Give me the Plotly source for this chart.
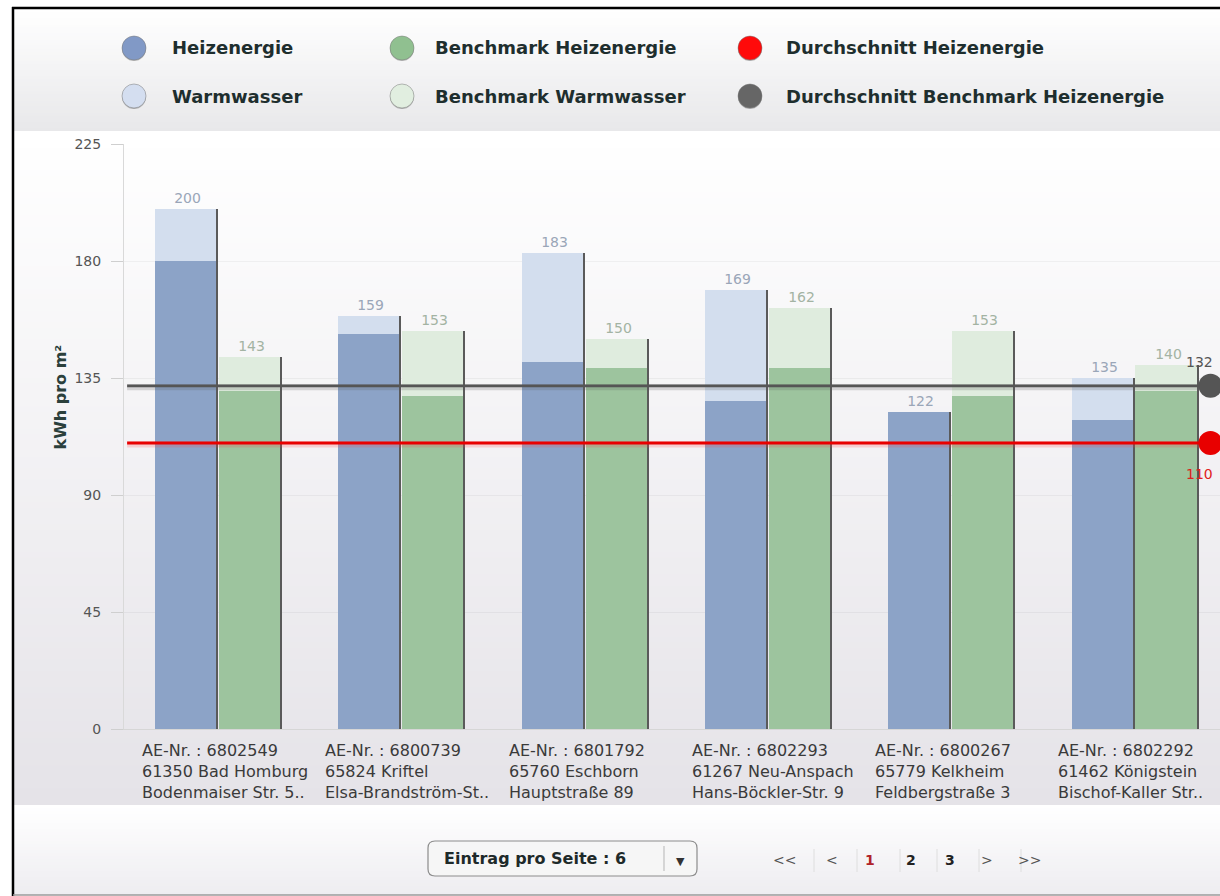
import plotly.graph_objects as go

# ---------------- data ----------------
ae_numbers = ["6802549", "6800739", "6801792", "6802293", "6800267", "6802292"]
cities = ["61350 Bad Homburg", "65824 Kriftel", "65760 Eschborn",
          "61267 Neu-Anspach", "65779 Kelkheim", "61462 Königstein"]
streets = ["Bodenmaiser Str. 5..", "Elsa-Brandström-St..", "Hauptstraße 89",
           "Hans-Böckler-Str. 9", "Feldbergstraße 3", "Bischof-Kaller Str.."]
heizenergie = [180, 152, 141, 126, 122, 119]
warmwasser = [20, 7, 42, 43, 0, 16]
bench_heiz = [130, 128, 139, 139, 128, 130]
bench_ww = [13, 25, 11, 23, 25, 10]
avg_heiz = 110
avg_bench_heiz = 132
y_ticks = [0, 45, 90, 135, 180, 225]
legend_names = ["Heizenergie", "Warmwasser", "Benchmark Heizenergie",
                "Benchmark Warmwasser", "Durchschnitt Heizenergie",
                "Durchschnitt Benchmark Heizenergie"]
pager_items = ["<<", "<", "1", "2", "3", ">", ">>"]

# ---------------- geometry / style ----------------
W, H = 1220, 896
L, R, T, B = 124, 1220, 144, 729
X_RANGE = [-0.507, 5.472]

def px2x(px):
    return (px - L) / (R - L)

def py2y(py):
    return (B - py) / (B - T)

C_HEIZ = "#8ca3c7"
C_WW = "#d3deee"
C_BHEIZ = "#9dc49e"
C_BWW = "#dfecde"
C_SHADOW = "#5a5a5a"
FONT = "DejaVu Sans"

n = len(ae_numbers)
idx = list(range(n))
tot_blue = [a + b for a, b in zip(heizenergie, warmwasser)]
tot_green = [a + b for a, b in zip(bench_heiz, bench_ww)]

BW = 0.333
OFF_B = -0.338
OFF_G = 0.011
SH = 0.011

fig = go.Figure()

# shadow bars (carry the total labels)
fig.add_trace(go.Bar(x=idx, y=tot_blue, offset=OFF_B + SH, width=BW,
                     marker=dict(color=C_SHADOW, line=dict(width=0)),
                     text=[str(v) for v in tot_blue], textposition="outside",
                     textfont=dict(family=FONT, size=14, color="#9aa6b8"),
                     cliponaxis=False, showlegend=False, hoverinfo="skip"))
fig.add_trace(go.Bar(x=idx, y=tot_green, offset=OFF_G + SH, width=BW,
                     marker=dict(color=C_SHADOW, line=dict(width=0)),
                     text=[str(v) for v in tot_green], textposition="outside",
                     textfont=dict(family=FONT, size=14, color="#a3b3a3"),
                     cliponaxis=False, showlegend=False, hoverinfo="skip"))

fig.add_trace(go.Bar(x=idx, y=heizenergie, offset=OFF_B, width=BW, name="Heizenergie",
                     marker=dict(color=C_HEIZ, line=dict(width=0)), showlegend=False))
fig.add_trace(go.Bar(x=idx, y=warmwasser, base=heizenergie, offset=OFF_B, width=BW,
                     name="Warmwasser", marker=dict(color=C_WW, line=dict(width=0)),
                     showlegend=False))
fig.add_trace(go.Bar(x=idx, y=bench_heiz, offset=OFF_G, width=BW, name="Benchmark Heizenergie",
                     marker=dict(color=C_BHEIZ, line=dict(width=0)), showlegend=False))
fig.add_trace(go.Bar(x=idx, y=bench_ww, base=bench_heiz, offset=OFF_G, width=BW,
                     name="Benchmark Warmwasser", marker=dict(color=C_BWW, line=dict(width=0)),
                     showlegend=False))

# average lines
x_line = [-0.49, n - 1 + 0.42]
for val, col, glow in [(avg_bench_heiz, "#555555", "rgba(90,90,90,0.22)"),
                       (avg_heiz, "#e80000", "rgba(255,60,60,0.2)")]:
    fig.add_trace(go.Scatter(x=x_line, y=[val - 0.6, val - 0.6], mode="lines",
                             line=dict(color=glow, width=6), showlegend=False,
                             hoverinfo="skip"))
    fig.add_trace(go.Scatter(x=x_line, y=[val, val], mode="lines",
                             line=dict(color=col, width=2.8),
                             showlegend=False, hoverinfo="skip"))
    fig.add_trace(go.Scatter(x=[x_line[1]], y=[val], mode="markers",
                             marker=dict(size=24, color=col, opacity=1, line=dict(width=0)),
                             cliponaxis=False, showlegend=False, hoverinfo="skip"))

fig.add_annotation(x=x_line[1], y=avg_bench_heiz, xref="x", yref="y", text=str(avg_bench_heiz),
                   showarrow=False, xshift=-11, yshift=24,
                   font=dict(family=FONT, size=14, color="#555555"))
fig.add_annotation(x=x_line[1], y=avg_heiz, xref="x", yref="y", text=str(avg_heiz),
                   showarrow=False, xshift=-11, yshift=-31,
                   font=dict(family=FONT, size=14, color="#e02020"))

# x labels (left aligned, 3 lines)
for i in idx:
    for txt, py in [("AE-Nr. : " + ae_numbers[i], 750), (cities[i], 771), (streets[i], 792)]:
        fig.add_annotation(x=i - 0.42, y=py2y(py), xref="x", yref="paper", text=txt,
                           showarrow=False, xanchor="left", yanchor="middle",
                           font=dict(family=FONT, size=16, color="#3a3a3a"))

# y title
fig.add_annotation(x=px2x(48), y=py2y(397), xref="paper", yref="paper",
                   text="<b>kWh pro m²</b>", textangle=-90, showarrow=False,
                   font=dict(family=FONT, size=16, color="#2b403c"))

# ---------------- backgrounds (gradient bands) ----------------
def hex2rgb(h):
    h = h.lstrip("#")
    return tuple(int(h[i:i + 2], 16) for i in (0, 2, 4))

def grad(y0, y1, c0, c1, nb):
    a, b = hex2rgb(c0), hex2rgb(c1)
    out = []
    step = (y1 - y0) / nb
    for j in range(nb):
        t = j / max(nb - 1, 1)
        c = tuple(round(a[k] + (b[k] - a[k]) * t) for k in range(3))
        ya = y0 + j * step
        yb = min(y1, ya + step + 1)
        out.append(dict(type="rect", xref="paper", yref="paper",
                        x0=px2x(13), x1=px2x(W + 5), y0=py2y(yb), y1=py2y(ya),
                        fillcolor="rgb(%d,%d,%d)" % c, line=dict(width=0),
                        layer="below"))
    return out

shapes = []
shapes += grad(9, 131, "#ffffff", "#e8e8ea", 40)
shapes += grad(131, 805, "#ffffff", "#e5e3e8", 120)
shapes += grad(805, 895, "#ffffff", "#eeedf1", 30)

# frame
shapes.append(dict(type="line", xref="paper", yref="paper", x0=px2x(12), x1=px2x(W + 5),
                   y0=py2y(8), y1=py2y(8), line=dict(color="#000000", width=2.5)))
shapes.append(dict(type="line", xref="paper", yref="paper", x0=px2x(13), x1=px2x(13),
                   y0=py2y(7), y1=py2y(H + 2), line=dict(color="#000000", width=2.5)))
shapes.append(dict(type="line", xref="paper", yref="paper", x0=px2x(13), x1=px2x(W + 5),
                   y0=py2y(895), y1=py2y(895), line=dict(color="#9a9a9a", width=1.5)))

# ---------------- legend ----------------
leg_circles_x = [134, 134, 402, 402, 750, 750]
leg_circles_y = [48, 96, 48, 96, 48, 96]
leg_text_x = [170, 170, 433, 433, 784, 784]
leg_colors = ["#8199c6", "#d4def0", "#90c090", "#e1eee0", "#ff0a0a", "#666666"]
for cx, cy, cc in zip(leg_circles_x, leg_circles_y, leg_colors):
    shapes.append(dict(type="circle", xref="paper", yref="paper",
                       x0=px2x(cx - 12), x1=px2x(cx + 12), y0=py2y(cy + 13), y1=py2y(cy - 11),
                       fillcolor="rgba(70,70,70,0.35)", line=dict(width=0)))
    shapes.append(dict(type="circle", xref="paper", yref="paper",
                       x0=px2x(cx - 12), x1=px2x(cx + 12), y0=py2y(cy + 12), y1=py2y(cy - 12),
                       fillcolor=cc, line=dict(width=1, color="rgba(120,120,120,0.5)")))
for name, tx, ty in zip(legend_names, leg_text_x, leg_circles_y):
    fig.add_annotation(x=px2x(tx), y=py2y(ty), xref="paper", yref="paper",
                       text="<b>" + name + "</b>", showarrow=False,
                       xanchor="left", yanchor="middle",
                       font=dict(family=FONT, size=18, color="#1e2e2e"))

# ---------------- dropdown & pager ----------------
bx0, bx1, by0, by1, rr = 428, 697, 841, 876, 7
path = ("M {a},{b} L {c},{b} Q {d},{b} {d},{e} L {d},{f} Q {d},{g} {c},{g} "
        "L {a},{g} Q {h},{g} {h},{f} L {h},{e} Q {h},{b} {a},{b} Z").format(
    a=px2x(bx0 + rr), b=py2y(by0), c=px2x(bx1 - rr), d=px2x(bx1), e=py2y(by0 + rr),
    f=py2y(by1 - rr), g=py2y(by1), h=px2x(bx0))
shapes.append(dict(type="path", xref="paper", yref="paper", path=path,
                   fillcolor="#f6f6f6", line=dict(color="#8c8c8c", width=1.2)))
shapes.append(dict(type="line", xref="paper", yref="paper", x0=px2x(664), x1=px2x(664),
                   y0=py2y(846), y1=py2y(871), line=dict(color="#b5b5b5", width=1)))
fig.add_annotation(x=px2x(442), y=py2y(858), xref="paper", yref="paper",
                   text="<b>Eintrag pro Seite : 6</b>", showarrow=False, xanchor="left",
                   yanchor="middle", font=dict(family=FONT, size=16, color="#1e2a2a"))
fig.add_annotation(x=px2x(680), y=py2y(859), xref="paper", yref="paper", text="▼",
                   showarrow=False, yanchor="middle", yshift=-2,
                   font=dict(family=FONT, size=11, color="#333333"))

pager_x = [784, 832, 877, 918, 957, 995, 1043]
pager_col = ["#555555", "#555555", "#b0232a", "#222222", "#222222", "#555555", "#555555"]
for t, xx, cc in zip(pager_items, pager_x, pager_col):
    fig.add_annotation(x=px2x(xx), y=py2y(860), xref="paper", yref="paper",
                       text="<b>" + t + "</b>" if t.isdigit() else t, showarrow=False,
                       yanchor="middle",
                       font=dict(family=FONT, size=14, color=cc))
for sx in [814, 857, 900, 937, 979, 1021]:
    shapes.append(dict(type="line", xref="paper", yref="paper", x0=px2x(sx), x1=px2x(sx),
                       y0=py2y(849), y1=py2y(872), line=dict(color="#dedede", width=1)))

fig.update_layout(
    width=W, height=H,
    margin=dict(l=L, r=W - R, t=T, b=H - B, pad=0),
    paper_bgcolor="#ffffff", plot_bgcolor="rgba(0,0,0,0)",
    barmode="overlay", bargap=0, showlegend=False,
    shapes=shapes,
    xaxis=dict(range=X_RANGE, showticklabels=False, showgrid=False, zeroline=False,
               showline=True, linecolor="#d6d6d6", linewidth=1, ticks="", fixedrange=True),
    yaxis=dict(range=[0, 225], tickvals=y_ticks, ticktext=[str(v) for v in y_ticks],
               showgrid=True, gridcolor="rgba(0,0,0,0.045)", zeroline=False,
               showline=True, linecolor="#d9d9d9", linewidth=1,
               ticks="outside", ticklen=12, tickcolor="#cfcfcf", ticklabelstandoff=7,
               tickfont=dict(family=FONT, size=14, color="#555555"), fixedrange=True),
)

fig.write_html("out.html", config={"displayModeBar": False},
               post_script="document.body.style.margin='0';document.body.style.overflow='hidden';")
